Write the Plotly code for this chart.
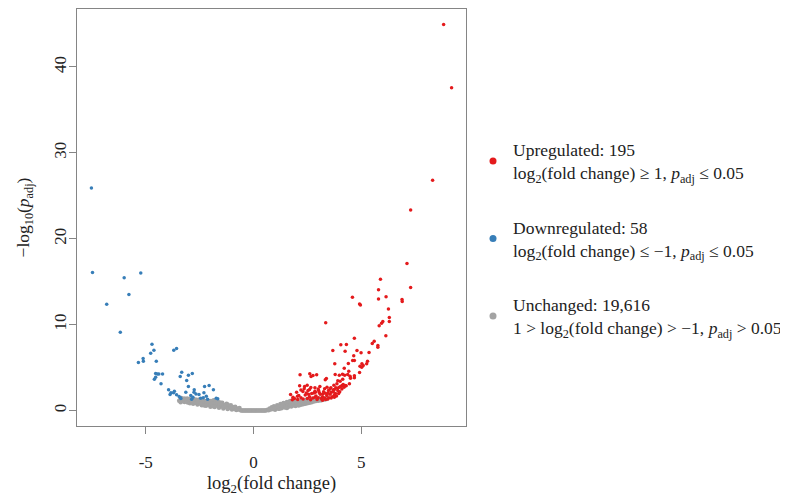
import plotly.graph_objects as go

# upregulated genes: log2 fold change / -log10 padj
up_x = [8.82, 9.19, 8.31, 7.29, 7.12, 7.29, 5.89, 5.80, 5.80, 6.15, 6.89, 6.90,
        4.59, 4.92, 4.96, 6.26, 6.30, 6.30, 6.00, 5.94, 5.83, 6.14, 3.35, 4.68,
        5.60, 5.51, 5.77, 5.77, 4.05, 4.31, 3.68, 4.25, 4.80, 4.99, 5.36, 4.65,
        4.60, 4.68, 4.40, 3.77, 5.29, 5.25, 5.03, 5.09, 4.94, 5.02, 4.21, 4.42,
        4.92, 2.16, 2.61, 2.67, 2.76, 2.93, 3.38, 3.33, 3.79, 3.98, 4.13, 4.23,
        4.37, 4.48, 4.68, 4.50, 4.68, 4.14, 4.02, 4.45, 4.25, 2.14, 2.37, 2.49,
        2.66, 2.85, 3.08, 3.41, 3.59, 3.73, 3.87, 3.91, 3.98, 4.11, 2.00, 2.29,
        2.53, 1.72, 1.83, 2.04, 2.87, 3.02, 3.21, 3.33, 3.48, 3.61, 3.71, 3.82,
        3.91, 4.04, 4.16, 2.20, 2.40, 2.60, 2.70, 2.90, 3.00, 3.10, 3.20, 3.30,
        3.40, 3.50, 3.55, 3.65, 3.75, 3.80, 2.30, 2.50, 2.75, 2.95, 3.15, 3.35,
        3.60, 1.90, 2.10, 2.45, 2.85, 3.05, 3.25, 3.45, 3.70, 3.85, 3.95, 2.55,
        2.65, 2.85, 3.45, 3.20, 3.75, 1.80, 2.05, 2.20, 2.35, 2.60, 2.80, 3.00,
        3.30, 3.55, 3.75, 3.90, 4.00, 4.10, 4.20, 4.30]
up_y = [44.95, 37.57, 26.80, 23.35, 17.13, 14.34, 15.30, 14.06, 12.98, 13.25, 12.94, 12.70,
        13.20, 12.40, 12.30, 11.81, 10.84, 10.37, 10.37, 10.17, 9.87, 8.70, 10.22, 8.43,
        8.08, 7.81, 7.58, 7.38, 7.66, 7.69, 6.99, 6.91, 6.99, 6.72, 6.76, 6.37,
        5.83, 5.83, 5.48, 5.44, 5.75, 5.44, 5.44, 5.24, 5.16, 5.05, 4.93, 4.58,
        4.43, 4.16, 4.28, 3.96, 4.08, 4.16, 3.73, 3.58, 4.20, 4.11, 4.23, 4.11,
        4.20, 4.00, 4.04, 3.77, 3.81, 3.65, 3.42, 3.11, 2.91, 2.88, 2.80, 2.95,
        2.68, 2.65, 2.80, 2.72, 2.65, 2.95, 3.11, 3.46, 2.72, 2.91, 2.13, 2.21,
        2.33, 1.86, 1.55, 1.67, 2.13, 2.33, 1.94, 2.02, 2.33, 2.13, 2.41, 2.65,
        2.33, 2.80, 3.03, 1.50, 1.80, 1.60, 2.00, 1.70, 1.50, 1.90, 1.60, 1.45,
        1.75, 1.50, 1.90, 1.60, 1.80, 2.00, 1.35, 1.40, 1.45, 1.30, 1.40, 1.30,
        1.45, 1.40, 1.75, 2.05, 2.25, 2.10, 2.20, 2.05, 2.20, 1.70, 2.00, 1.90,
        1.25, 1.55, 1.35, 1.20, 1.55, 1.25, 1.30, 2.40, 2.55, 2.45, 2.05, 2.50,
        2.55, 2.50, 2.45, 2.60, 2.20, 2.50, 2.70, 2.90]

# downregulated genes
down_x = [-7.52, -7.47, -6.81, -6.18, -6.00, -5.78, -5.23, -4.71, -4.62, -4.77, -4.51, -5.34,
          -5.12, -5.11, -3.70, -3.57, -4.54, -4.46, -4.39, -4.22, -4.60, -4.54, -4.29, -3.40,
          -3.33, -3.10, -3.02, -2.84, -3.02, -2.27, -2.06, -1.86, -3.94, -3.83, -3.71, -3.67,
          -3.87, -3.57, -3.45, -3.39, -3.14, -2.75, -2.76, -2.91, -2.81, -2.67, -2.53, -2.30,
          -2.33, -2.13, -1.73, -1.66, -3.37, -2.19, -2.45, -2.87]
down_y = [25.91, 16.08, 12.39, 9.13, 15.46, 13.52, 16.00, 7.73, 7.03, 6.68, 5.75, 5.59,
          6.06, 5.75, 7.03, 7.23, 4.31, 4.27, 4.27, 4.27, 3.65, 3.89, 3.11, 3.96,
          4.47, 3.50, 4.12, 4.31, 2.80, 2.80, 2.91, 2.41, 2.41, 2.06, 2.06, 2.25,
          1.86, 1.83, 1.63, 1.48, 2.14, 2.41, 2.14, 1.75, 1.55, 1.94, 1.86, 2.06,
          1.48, 1.32, 1.44, 1.36, 1.40, 1.67, 1.44, 1.32]

# unchanged genes (a readable subset of the dense cloud)
flat_x = [-3.45, -3.40, -3.35, -3.30, -3.25, -3.20, -3.15, -3.10, -3.05, -3.00, -2.95, -2.90,
          -2.85, -2.80, -2.75, -2.70, -2.65, -2.60, -2.55, -2.50, -2.45, -2.40, -2.35, -2.30,
          -2.25, -2.20, -2.15, -2.10, -2.05, -2.00, -1.95, -1.90, -1.85, -1.80, -1.75, -1.70,
          -1.65, -1.60, -1.55, -1.50, -1.45, -1.40, -1.35, -1.30, -1.25, -1.20, -1.15, -1.10,
          -1.05, -1.00, -0.95, -0.90, -0.85, -0.80, -0.75, -0.70, -0.65, -0.60,
          -3.38, -3.22, -3.08, -2.98, -2.88, -2.72, -2.62, -2.52, -2.42, -2.32, -2.28, -2.18,
          -2.08, -1.98, -1.88, -1.78, -1.68, -1.58, -1.48, -1.38, -1.28, -1.18, -1.08, -0.98,
          -0.88, -0.78, -2.60, -2.00, -1.55, -1.20,
          -0.55, -0.50, -0.45, -0.40, -0.35, -0.30, -0.25, -0.20, -0.15, -0.10, -0.05, 0.00,
          0.05, 0.10, 0.15, 0.20, 0.25, 0.30, 0.35, 0.40, 0.45, 0.50, 0.55, 0.60,
          0.65, 0.70, 0.75, 0.80, 0.85, 0.90, 0.95, 1.00, 1.05, 1.10, 1.15, 1.20,
          1.25, 1.30, 1.35, 1.40, 1.45, 1.50, 1.55, 1.60, 1.65, 1.70, 1.75, 1.80,
          1.85, 1.90, 1.95, 2.00, 2.05, 2.10, 2.15, 2.20, 2.25, 2.30, 2.35, 2.40,
          2.45, 2.50, 2.55, 2.60, 2.65, 2.70, 2.75, 2.80, 2.85, 2.90, 2.95, 3.00,
          3.05, 3.10, 3.15, 3.20, 3.25, 3.30, 3.35, 3.40,
          0.95, 1.10, 1.20, 1.30, 1.45, 1.50, 1.60, 1.70, 1.75, 1.85, 1.95, 2.05,
          2.15, 2.25, 2.35, 2.45, 2.55, 2.65, 2.75, 2.85, 3.00, 3.15, 1.35, 1.65,
          2.00, 2.30, 1.55]
flat_y = [1.15, 1.30, 1.45, 1.10, 1.25, 1.00, 1.35, 1.20, 0.95, 1.10, 0.85, 1.30,
          1.00, 0.78, 1.15, 0.90, 1.25, 0.70, 1.05, 0.85, 1.20, 0.62, 0.95, 0.75,
          1.10, 0.55, 0.85, 1.15, 0.65, 0.45, 0.95, 0.70, 1.20, 0.40, 0.85, 0.60,
          1.05, 0.32, 0.75, 0.50, 0.90, 0.25, 0.62, 0.40, 0.78, 0.18, 0.50, 0.30,
          0.62, 0.12, 0.40, 0.22, 0.45, 0.06, 0.25, 0.12, 0.30, 0.03,
          0.98, 1.40, 1.40, 1.35, 1.20, 1.30, 0.95, 1.30, 0.80, 1.15, 0.60, 0.95,
          0.90, 1.10, 0.50, 1.00, 0.80, 0.55, 0.70, 0.45, 0.60, 0.35, 0.45, 0.28,
          0.32, 0.15, 1.10, 0.78, 0.95, 0.70,
          0.00, 0.02, 0.00, 0.01, 0.00, 0.02, 0.00, 0.01, 0.00, 0.00, 0.01, 0.00,
          0.00, 0.01, 0.00, 0.00, 0.02, 0.00, 0.01, 0.00, 0.02, 0.00, 0.01, 0.03,
          0.10, 0.05, 0.25, 0.12, 0.38, 0.18, 0.50, 0.10, 0.30, 0.62, 0.20, 0.45,
          0.75, 0.28, 0.55, 0.88, 0.35, 0.65, 1.00, 0.40, 0.75, 1.10, 0.48, 0.85,
          0.58, 1.05, 0.52, 0.78, 1.15, 0.60, 0.95, 0.68, 1.20, 0.72, 1.00, 0.78,
          1.25, 0.85, 1.10, 0.90, 1.30, 0.98, 1.20, 1.05, 1.35, 1.10, 1.25, 1.15,
          1.40, 1.20, 1.32, 1.25, 1.40, 1.30, 1.38, 1.35,
          0.25, 0.40, 0.20, 0.55, 0.60, 0.45, 0.62, 0.55, 0.90, 0.80, 0.90, 0.70,
          0.80, 0.90, 0.85, 1.00, 0.95, 1.05, 1.10, 1.15, 1.30, 1.20, 0.78, 1.00,
          1.00, 1.10, 0.30]

legend_names = [
    "Upregulated: 195<br>log<sub>2</sub>(fold change) ≥ 1, <i>p</i><sub>adj</sub> ≤ 0.05",
    "Downregulated: 58<br>log<sub>2</sub>(fold change) ≤ −1, <i>p</i><sub>adj</sub> ≤ 0.05",
    "Unchanged: 19,616<br>1 &gt; log<sub>2</sub>(fold change) &gt; −1, <i>p</i><sub>adj</sub> &gt; 0.05",
]
x_ticks = [-5, 0, 5]
y_ticks = [0, 10, 20, 30, 40]

red = "#E41A1C"
blue = "#377EB8"
grey = "#A3A3A3"
serif = "Liberation Serif, Times New Roman, serif"

fig = go.Figure()

fig.add_trace(go.Scatter(x=flat_x, y=flat_y, mode="markers", showlegend=False,
                         marker=dict(color=grey, size=4.5, line=dict(width=0))))
fig.add_trace(go.Scatter(x=down_x, y=down_y, mode="markers", showlegend=False,
                         marker=dict(color=blue, size=3.5, line=dict(width=0))))
fig.add_trace(go.Scatter(x=up_x, y=up_y, mode="markers", showlegend=False,
                         marker=dict(color=red, size=3.5, line=dict(width=0))))

# legend-only entries with bigger dots
for name, col, grp in zip(legend_names, [red, blue, grey], ["a", "b", "c"]):
    fig.add_trace(go.Scatter(x=[None], y=[None], mode="markers", name=name,
                             legendgroup=grp,
                             marker=dict(color=col, size=7)))

# R-style 4% padding around the data
all_x = up_x + down_x + flat_x
all_y = up_y + down_y + flat_y
xspan = max(all_x) - min(all_x)
yspan = max(all_y) - min(all_y)
xr = [min(all_x) - 0.04 * xspan, max(all_x) + 0.04 * xspan]
yr = [min(all_y) - 0.04 * yspan, max(all_y) + 0.04 * yspan]

axis_common = dict(showgrid=False, zeroline=False, showline=True, mirror=True,
                   linecolor="#858585", linewidth=1.3, ticks="outside", ticklen=7,
                   tickcolor="#858585", tickwidth=1,
                   tickfont=dict(family=serif, size=17, color="#222"))

fig.update_xaxes(range=xr, tickvals=x_ticks, ticktext=[str(v) for v in x_ticks],
                 ticklabelstandoff=13,
                 title=dict(text="log<sub>2</sub>(fold change)", standoff=9,
                            font=dict(family=serif, size=18.5, color="#222")),
                 **axis_common)
fig.update_yaxes(range=yr, tickvals=y_ticks, tickangle=-90, ticklabelstandoff=-4,
                 title=dict(text="−log<sub>10</sub>(<i>p</i><sub>adj</sub>)", standoff=16,
                            font=dict(family=serif, size=17.5, color="#222")),
                 **axis_common)

# the page body adds an 8px offset, so the figure is 8px smaller
fig.update_layout(
    width=780, height=488,
    margin=dict(l=69, r=318, t=1, b=70),
    paper_bgcolor="white", plot_bgcolor="white",
    showlegend=True,
    legend=dict(x=1.018, xanchor="left", y=0.449, yanchor="middle",
                traceorder="grouped", tracegroupgap=29,
                font=dict(family=serif, size=17.5, color="#222"),
                bgcolor="rgba(0,0,0,0)"),
)

fig.write_html("out.html")
